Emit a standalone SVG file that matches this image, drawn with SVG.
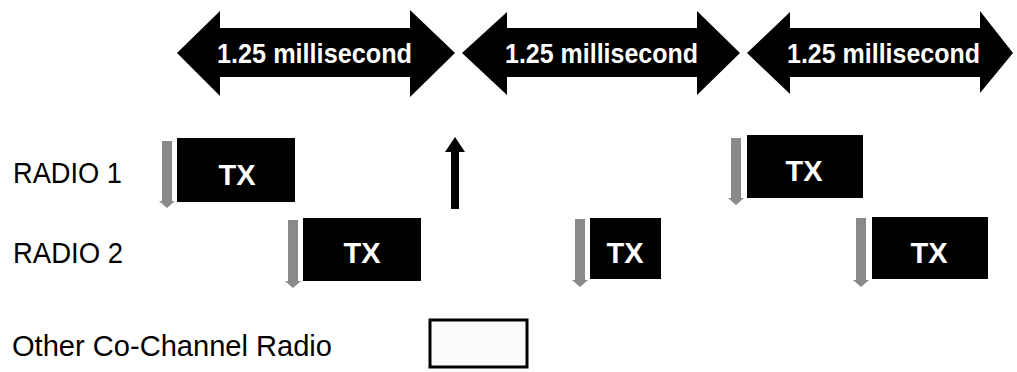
<svg xmlns="http://www.w3.org/2000/svg" width="1017" height="372" viewBox="0 0 1017 372">
<style>
.lbl{font-family:"Liberation Sans",Arial,sans-serif;font-size:29px;fill:#000}
.ms{font-family:"Liberation Sans",Arial,sans-serif;font-size:27px;font-weight:bold;fill:#fff}
.tx{font-family:"Liberation Sans",Arial,sans-serif;font-size:29px;font-weight:bold;fill:#fff;text-anchor:middle}
.box{fill:#000}
.dbl{fill:#000}
.grey{fill:#8a8a8a}
</style>
<rect width="1017" height="372" fill="#fff"/>
<g id="period1">
<path class="dbl" d="M177,53 L220,11 L220,28 L410,28 L410,10 L455,53 L410,97 L410,77 L220,77 L220,96 Z"/>
<text class="ms" x="217" y="63" textLength="195" lengthAdjust="spacingAndGlyphs">1.25 millisecond</text>
</g>
<g id="period2">
<path class="dbl" d="M462,53 L507,12 L507,28 L697,28 L697,11 L740,53 L697,95 L697,77 L507,77 L507,95 Z"/>
<text class="ms" x="505" y="63" textLength="193" lengthAdjust="spacingAndGlyphs">1.25 millisecond</text>
</g>
<g id="period3">
<path class="dbl" d="M747,53 L790,12 L790,28 L980,28 L980,11 L1013,53 L980,93 L980,77 L790,77 L790,94 Z"/>
<text class="ms" x="787" y="63" textLength="193" lengthAdjust="spacingAndGlyphs">1.25 millisecond</text>
</g>
<g id="labels">
<text class="lbl" x="13" y="183" textLength="109" lengthAdjust="spacingAndGlyphs">RADIO 1</text>
<text class="lbl" x="13" y="263" textLength="110" lengthAdjust="spacingAndGlyphs">RADIO 2</text>
<text class="lbl" x="12" y="356" textLength="320" lengthAdjust="spacingAndGlyphs">Other Co-Channel Radio</text>
</g>
<g id="radio1-tx1">
<rect class="box" x="177" y="138" width="118" height="64"/>
<text class="tx" x="237" y="185">TX</text>
</g>
<g id="radio1-tx2">
<rect class="box" x="747" y="135" width="116" height="63"/>
<text class="tx" x="804" y="181">TX</text>
</g>
<g id="radio2-tx1">
<rect class="box" x="303" y="218" width="118" height="63"/>
<text class="tx" x="362" y="263">TX</text>
</g>
<g id="radio2-tx2">
<rect class="box" x="590" y="218" width="71" height="61"/>
<text class="tx" x="625" y="263">TX</text>
</g>
<g id="radio2-tx3">
<rect class="box" x="872" y="217" width="116" height="62"/>
<text class="tx" x="929" y="263">TX</text>
</g>
<g id="other-radio">
<rect x="430" y="320" width="97" height="47" fill="#fbfbfb" stroke="#000" stroke-width="3"/>
</g>
<g id="connectors">
<path class="grey" d="M162,141 L172,141 L172,201 L175,201 L167,208 L159,201 L162,201 Z"/>
<path class="grey" d="M731,138 L741,138 L741,198 L744,198 L736,205 L728,198 L731,198 Z"/>
<path class="grey" d="M288,220 L298,220 L298,281 L301,281 L293,288 L285,281 L288,281 Z"/>
<path class="grey" d="M575,219 L585,219 L585,280 L588,280 L580,287 L572,280 L575,280 Z"/>
<path class="grey" d="M856,218 L866,218 L866,280 L869,280 L861,287 L853,280 L856,280 Z"/>
<path fill="#000" d="M451,209 L451,152 L445,152 L455,137 L465,152 L459,152 L459,209 Z"/>
</g>
</svg>
